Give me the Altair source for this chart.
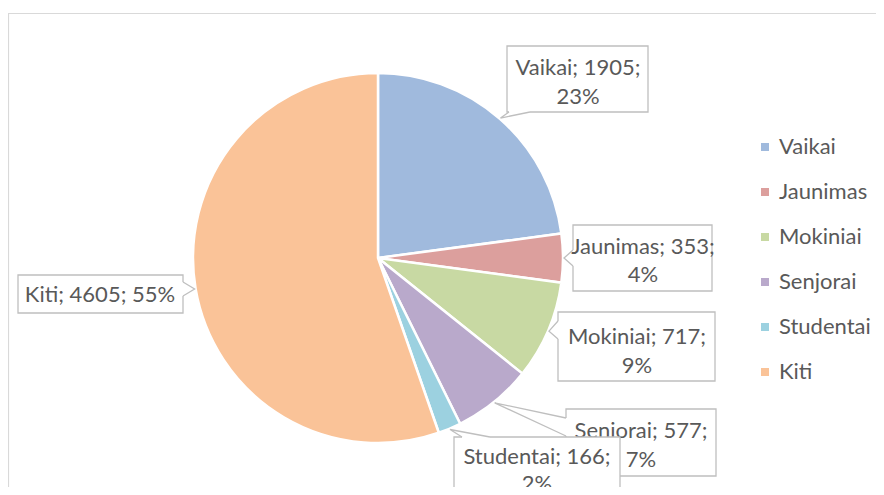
import math
import altair as alt
import pandas as pd

# ---- data ----
categories = ["Vaikai", "Jaunimas", "Mokiniai", "Senjorai", "Studentai", "Kiti"]
values = [1905, 353, 717, 577, 166, 4605]

# ---- styles ----
colors = ["#A0BADD", "#DC9F9D", "#C8D9A3", "#B9A9CB", "#9CD1E0", "#FAC398"]
FONT = "Lato"
TXT = "#595959"
GRAY = "#BFBFBF"
OFF = 8  # page margin
CX, CY, R = 378 - OFF, 258 - OFF, 185
W, H = 884 - 2 * OFF, 495 - 2 * OFF

# label box layout (page pixels): box, callout base points, first-line centre, wrap, line height
layout = {
    "Vaikai":    dict(box=(507, 46, 648, 112), base=((509, 112), (530, 112)), text=(578, 68), wrap=True, lh=29),
    "Jaunimas":  dict(box=(573, 225, 712, 291), base=((573, 250), (573, 266)), text=(643, 247), wrap=True, lh=28),
    "Mokiniai":  dict(box=(558, 312, 715, 381), base=((558, 321), (558, 339)), text=(637, 337), wrap=True, lh=29),
    "Senjorai":  dict(box=(566, 409, 716, 476), base=((566, 418), (566, 436)), text=(641, 431), wrap=True, lh=29),
    "Studentai": dict(box=(454, 437, 620, 520), base=((462, 437), (490, 437)), text=(537, 457), wrap=True, lh=27),
    "Kiti":      dict(box=(18, 275, 183, 313), base=((183, 282), (183, 296)), text=(100, 295), wrap=False, lh=29),
}

total = sum(values)
df = pd.DataFrame({"category": categories, "value": values, "idx": range(len(categories))})

pie = alt.Chart(df).mark_arc(radius=R, stroke="white", strokeWidth=2.5).encode(
    theta=alt.Theta("value:Q", stack=True),
    color=alt.Color(
        "category:N",
        scale=alt.Scale(domain=categories, range=colors),
        sort=categories,
        legend=alt.Legend(
            orient="none", legendX=746, legendY=128, title=None,
            symbolType="square", symbolSize=64, symbolStrokeWidth=0,
            labelFont=FONT, labelFontSize=22, labelColor=TXT,
            labelOffset=3, rowPadding=23, padding=0,
        ),
    ),
    order=alt.Order("idx:Q"),
    x=alt.value(CX),
    y=alt.value(CY),
)

# border of chart area
border = alt.Chart(pd.DataFrame({"a": [0]})).mark_rect(
    fill=None, stroke="#D9D9D9", strokeWidth=1.2
).encode(x=alt.value(0.5), x2=alt.value(W + 20), y=alt.value(5.5), y2=alt.value(H + 20))

layers = [border, pie]

cum = 0.0
for cat, val in zip(categories, values):
    mid = (cum + val / 2) / total * 2 * math.pi
    cum += val
    pct = round(val / total * 100)
    L = layout[cat]
    tipx = CX + (R + 1) * math.sin(mid)
    tipy = CY - (R + 1) * math.cos(mid)
    (b1x, b1y), (b2x, b2y) = L["base"]
    x0, y0, x1, y1 = L["box"]
    label = f"{cat}; {val};\n{pct}%" if L["wrap"] else f"{cat}; {val}; {pct}%"

    box = alt.Chart(pd.DataFrame({"x": [x0 - OFF], "x2": [x1 - OFF], "y": [y0 - OFF], "y2": [y1 - OFF]})).mark_rect(
        fill="white", stroke=GRAY, strokeWidth=1.3
    ).encode(
        x=alt.X("x:Q", scale=None), x2="x2:Q", y=alt.Y("y:Q", scale=None), y2="y2:Q"
    )
    cover = alt.Chart(pd.DataFrame({"x": [b1x - OFF], "x2": [b2x - OFF], "y": [b1y - OFF], "y2": [b2y - OFF]})).mark_rule(
        stroke="white", strokeWidth=2.5
    ).encode(
        x=alt.X("x:Q", scale=None), x2="x2:Q", y=alt.Y("y:Q", scale=None), y2="y2:Q"
    )
    pts = pd.DataFrame({
        "x": [b1x - OFF, tipx, b2x - OFF],
        "y": [b1y - OFF, tipy, b2y - OFF],
        "k": [0, 1, 2],
    })
    pointer = alt.Chart(pts).mark_line(color=GRAY, strokeWidth=1.3).encode(
        x=alt.X("x:Q", scale=None), y=alt.Y("y:Q", scale=None), order="k:Q"
    )
    text = alt.Chart(pd.DataFrame({"x": [L["text"][0] - OFF], "y": [L["text"][1] - OFF], "t": [label]})).mark_text(
        font=FONT, fontSize=22, color=TXT, lineBreak="\n", lineHeight=L["lh"],
        align="center", baseline="middle",
    ).encode(x=alt.X("x:Q", scale=None), y=alt.Y("y:Q", scale=None), text="t:N")
    layers += [box, cover, pointer, text]

chart = alt.layer(*layers).properties(
    width=W, height=H, padding=0, autosize=alt.AutoSizeParams(type="none")
).configure_view(stroke=None)

chart.save("out.html", embed_options={"renderer": "svg", "actions": False})
